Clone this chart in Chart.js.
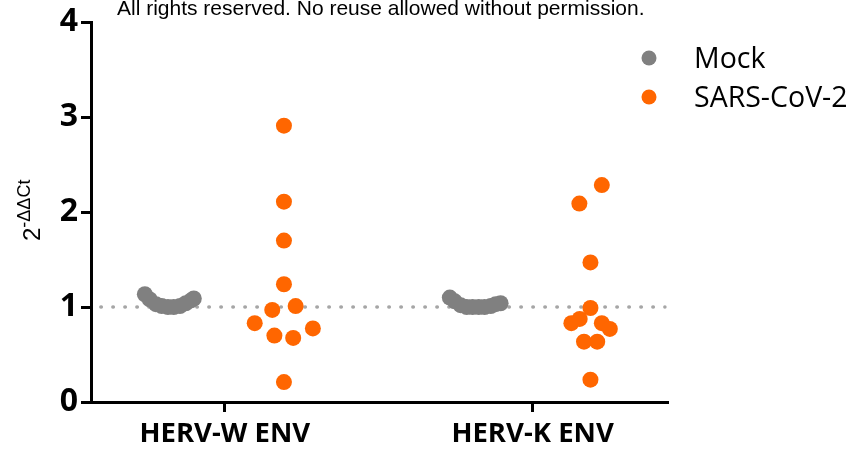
<!DOCTYPE html>
<html>
<head>
<meta charset="utf-8">
<script src="https://cdn.jsdelivr.net/npm/chart.js@4"></script>
<style>
  body { margin: 0; background: #fff; }
  #wrap { width: 856px; height: 455px; }
</style>
</head>
<body>
<div id="wrap"><canvas id="myChart"></canvas></div>
<script>
const categories = ['HERV-W ENV', 'HERV-K ENV'];
const seriesNames = ['Mock', 'SARS-CoV-2'];
const yTicks = [0, 1, 2, 3, 4];
const baseline = 1;

// x: 1 = HERV-W ENV, 2 = HERV-K ENV (fraction = scatter spread)
const mockX = [0.740, 0.756, 0.776, 0.795, 0.815, 0.834, 0.854, 0.873, 0.890, 0.899,
               1.731, 1.747, 1.766, 1.786, 1.805, 1.825, 1.844, 1.864, 1.880, 1.896];
const mockY = [1.135, 1.08, 1.03, 1.01, 1.00, 1.00, 1.01, 1.04, 1.07, 1.09,
               1.10, 1.06, 1.02, 1.00, 1.00, 1.00, 1.00, 1.01, 1.03, 1.04];

const sarsX = [1.192, 1.192, 1.192, 1.192, 1.154, 1.230, 1.097, 1.161, 1.222, 1.286, 1.192,
               2.225, 2.152, 2.188, 2.188, 2.126, 2.153, 2.225, 2.251, 2.167, 2.210, 2.188];
const sarsY = [2.91, 2.11, 1.70, 1.24, 0.97, 1.01, 0.83, 0.70, 0.675, 0.775, 0.21,
               2.285, 2.09, 1.47, 0.99, 0.83, 0.875, 0.83, 0.77, 0.635, 0.635, 0.235];

const colors = ['#808080', '#ff6600'];

const toPoints = (xs, ys) => xs.map((x, i) => ({ x: x, y: ys[i] }));

const extraText = {
  id: 'extraText',
  afterDraw(chart) {
    const ctx = chart.ctx;
    ctx.save();
    // note at the top
    ctx.fillStyle = '#000';
    ctx.font = '21px "Liberation Sans", Arial, sans-serif';
    ctx.textBaseline = 'alphabetic';
    ctx.fillText('All rights reserved. No reuse allowed without permission.', 117, 15);

    // y title 2^-ΔΔCt
    ctx.translate(40, 241);
    ctx.rotate(-Math.PI / 2);
    ctx.font = '24px "Liberation Sans", Arial, sans-serif';
    ctx.fillText('2', 0, 0);
    const w = ctx.measureText('2').width;
    ctx.font = '18px "Liberation Sans", Arial, sans-serif';
    ctx.fillText('-\u0394\u0394Ct', w, -10);
    ctx.restore();

    // legend
    ctx.save();
    ctx.font = '28.5px "Open Sans", sans-serif';
    ctx.textBaseline = 'middle';
    seriesNames.forEach((name, i) => {
      const y = 58 + i * 39;
      ctx.fillStyle = colors[i];
      ctx.beginPath();
      ctx.arc(649, y, 7.5, 0, Math.PI * 2);
      ctx.fill();
      ctx.fillStyle = '#000';
      ctx.fillText(name, 694, y + 2);
    });
    ctx.restore();
  }
};

new Chart(document.getElementById('myChart'), {
  type: 'scatter',
  data: {
    datasets: [
      {
        label: seriesNames[0],
        data: toPoints(mockX, mockY),
        backgroundColor: colors[0],
        borderWidth: 0,
        pointRadius: 8
      },
      {
        label: seriesNames[1],
        data: toPoints(sarsX, sarsY),
        backgroundColor: colors[1],
        borderWidth: 0,
        pointRadius: 8
      },
      {
        type: 'line',
        label: 'baseline',
        data: [{ x: 0.597, y: baseline }, { x: 2.43, y: baseline }],
        borderColor: '#a6a6a6',
        borderWidth: 3.5,
        borderDash: [0.5, 11.5],
        borderCapStyle: 'round',
        pointRadius: 0
      }
    ]
  },
  options: {
    responsive: true,
    maintainAspectRatio: false,
    animation: false,
    layout: { padding: { top: 18, right: 188, left: 0, bottom: 0 } },
    plugins: {
      legend: { display: false },
      tooltip: { enabled: false }
    },
    scales: {
      x: {
        type: 'linear',
        min: 0.565,
        max: 2.44,
        afterBuildTicks: (scale) => {
          scale.ticks = categories.map((c, i) => ({ value: i + 1 }));
        },
        afterFit: (scale) => { scale.height = 53; },
        ticks: {
          callback: (value) => categories[value - 1],
          color: '#000',
          font: { family: 'Open Sans', size: 27.5, weight: 'bold' },
          padding: 6,
          maxRotation: 0
        },
        grid: {
          drawOnChartArea: false,
          tickLength: 10,
          tickWidth: 3,
          tickColor: '#000'
        },
        border: { color: '#000', width: 3 }
      },
      y: {
        min: 0,
        max: 4,
        afterBuildTicks: (scale) => {
          scale.ticks = yTicks.map(v => ({ value: v }));
        },
        afterFit: (scale) => { scale.width = 91; },
        ticks: {
          color: '#000',
          font: { family: 'Open Sans', size: 32, weight: 'bold' },
          padding: 3
        },
        grid: {
          drawOnChartArea: false,
          tickLength: 10,
          tickWidth: 3,
          tickColor: '#000'
        },
        border: { color: '#000', width: 3 }
      }
    }
  },
  plugins: [extraText]
});
</script>
</body>
</html>
